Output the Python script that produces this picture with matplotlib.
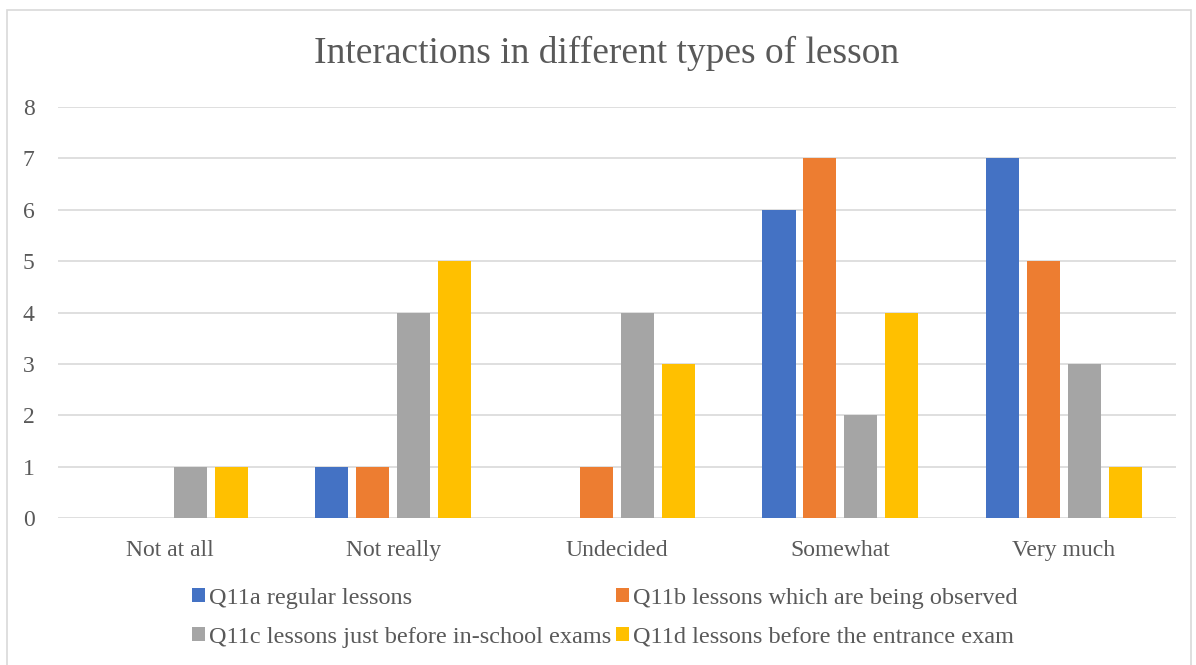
import matplotlib.pyplot as plt
import numpy as np
from matplotlib.patches import Rectangle

categories = ['Not at all', 'Not really', 'Undecided', 'Somewhat', 'Very much']
series_names = ['Q11a regular lessons',
                'Q11b lessons which are being observed',
                'Q11c lessons just before in-school exams',
                'Q11d lessons before the entrance exam']
q11a = [0, 1, 0, 6, 7]
q11b = [0, 1, 1, 7, 5]
q11c = [1, 4, 4, 2, 3]
q11d = [1, 5, 3, 4, 1]
colors = ['#4472C4', '#ED7D31', '#A5A5A5', '#FFC000']

plt.rcParams['font.family'] = ['Liberation Serif', 'DejaVu Serif']
txt = '#595959'

fig = plt.figure(figsize=(11.96, 6.65), dpi=100)
ax = fig.add_axes([0.0485, 0.221, 0.9345, 0.618])

# outer chart border
fig.patches.append(Rectangle((0.006, -0.01), 0.99, 0.995, transform=fig.transFigure,
                             fill=False, edgecolor='#D9D9D9', linewidth=1.2))

x = np.arange(len(categories))
width = 0.148
step = 0.183
bars = []
for i, vals in enumerate([q11a, q11b, q11c, q11d]):
    b = ax.bar(x + (i - 1.5) * step, vals, width, color=colors[i], label=series_names[i], zorder=3)
    bars.append(b)

ax.set_xlim(-0.5, 4.5)
ax.set_ylim(0, 8)
ax.set_yticks(range(0, 9))
ax.set_xticks(x)
ax.set_xticklabels(categories)
ax.grid(axis='y', color='#D9D9D9', linewidth=1.2, zorder=0)
for s in ax.spines.values():
    s.set_visible(False)
ax.tick_params(length=0, labelsize=17, colors=txt)
ax.tick_params(axis='y', pad=17)
ax.tick_params(axis='x', pad=16)

fig.text(0.507, 0.92, 'Interactions in different types of lesson', ha='center', va='center',
         fontsize=27, color=txt)

# row-major order in the legend
order = [0, 2, 1, 3]
fig.legend([bars[i] for i in order], [series_names[i] for i in order],
           loc='center', bbox_to_anchor=(0.506, 0.071), ncol=2, frameon=False,
           fontsize=17.5, labelcolor=txt, handlelength=0.5, handleheight=0.5,
           handletextpad=0.2, columnspacing=0.2, labelspacing=0.75)

fig.savefig('out.png', dpi=100)
